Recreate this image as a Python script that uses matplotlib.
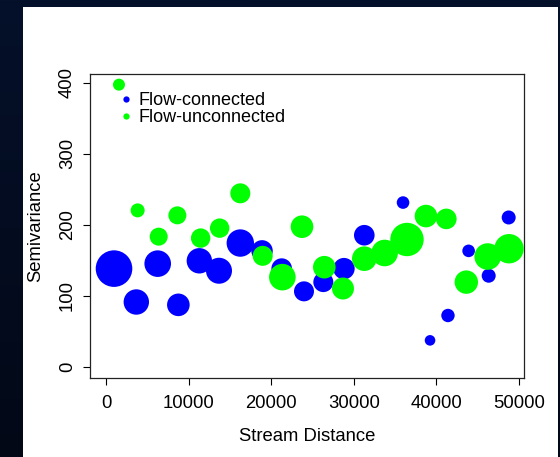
import numpy as np
import matplotlib
matplotlib.use("Agg")
import matplotlib.pyplot as plt
from matplotlib.lines import Line2D
from matplotlib.patches import Rectangle

plt.rcParams['font.family'] = ['Liberation Sans', 'DejaVu Sans']

# Flow-connected (blue)
fc_dist = [970, 3670, 6260, 8760, 11300, 13680, 16260, 18890, 21270, 23970,
           26310, 28810, 31270, 35960, 39230, 41400, 43900, 46330, 48750]
fc_semivar = [138, 91, 145, 87, 149, 135, 174, 163, 138, 106,
              119, 138, 185, 231, 37, 72, 163, 128, 210]
fc_weight = [18.3, 12.7, 13.3, 11.3, 12.7, 13.0, 13.7, 10.7, 10.3, 10.0,
             10.0, 10.7, 10.3, 6.3, 5.3, 6.7, 6.3, 7.0, 7.0]

# Flow-unconnected (green)
fu_dist = [1570, 3830, 6380, 8640, 11460, 13760, 16260, 18970, 21350, 23730,
           26430, 28690, 31270, 33730, 36440, 38740, 41200, 43620, 46210, 48790]
fu_semivar = [397, 220, 183, 213, 181, 195, 244, 156, 126, 197,
              140, 110, 152, 160, 179, 212, 208, 119, 155, 166]
fu_weight = [6.0, 7.0, 9.0, 9.0, 9.7, 9.7, 10.0, 10.0, 13.3, 11.3,
             11.3, 11.0, 12.3, 13.3, 16.7, 11.3, 10.3, 11.7, 13.3, 14.7]

x_ticks = [0, 10000, 20000, 30000, 40000, 50000]
y_ticks = [0, 100, 200, 300, 400]

W, H, DPI = 560, 457, 100
fig = plt.figure(figsize=(W / DPI, H / DPI), dpi=DPI)

# dark navy background with subtle gradient
bg = fig.add_axes([0, 0, 1, 1])
bg.set_axis_off()
grad = np.linspace(0, 1, 256).reshape(-1, 1)
top = np.array([5, 16, 42]) / 255.0
bot = np.array([2, 8, 22]) / 255.0
img = top[None, None, :] * (1 - grad[..., None]) + bot[None, None, :] * grad[..., None]
img = np.repeat(img, 4, axis=1)
bg.imshow(img, aspect='auto', extent=[0, 1, 0, 1])
bg.set_xlim(0, 1)
bg.set_ylim(0, 1)
# white device region
bg.add_patch(Rectangle((23 / W, 0), (558 - 23) / W, (H - 7) / H,
                       facecolor='white', edgecolor='none'))


def px_axes(left, top, right, bottom):
    return [left / W, 1 - bottom / H, (right - left) / W, (bottom - top) / H]


ax = fig.add_axes(px_axes(90, 74, 524, 378))
ax.set_facecolor('white')


def sz(w):
    return (np.array(w) * 2 * 72 / DPI) ** 2


ax.scatter(fc_dist, fc_semivar, s=sz(fc_weight), c='#0000FF', linewidths=0, zorder=2)
ax.scatter(fu_dist, fu_semivar, s=sz(fu_weight), c='#00FF00', linewidths=0, zorder=3)

ax.set_xlim(-1937, 50605)
ax.set_ylim(-16, 412)
ax.set_xticks(x_ticks)
ax.set_xticklabels([str(v) for v in x_ticks])
ax.set_yticks(y_ticks)
ax.set_yticklabels([str(v) for v in y_ticks], rotation=90, va='center')
ax.tick_params(direction='out', length=5, width=0.8, labelsize=13.3, colors='black')
ax.tick_params(axis='x', pad=7.5)
ax.tick_params(axis='y', pad=5)
for sp in ax.spines.values():
    sp.set_linewidth(0.9)
    sp.set_color('#222222')

ax.set_xlabel('Stream Distance', fontsize=13.3, labelpad=11)
ax.set_ylabel('Semivariance', fontsize=13.3, labelpad=11)

handles = [Line2D([], [], marker='o', linestyle='none', color='#0000FF',
                  markersize=4.5, markeredgewidth=0),
           Line2D([], [], marker='o', linestyle='none', color='#00FF00',
                  markersize=4.5, markeredgewidth=0)]
leg = ax.legend(handles, ['Flow-connected', 'Flow-unconnected'],
                loc='upper left', bbox_to_anchor=((122 - 90) / 434, 1 - (92 - 74) / 304),
                frameon=False, fontsize=13, handlelength=0.4, handletextpad=0.52,
                labelspacing=0.0, borderaxespad=0, borderpad=0)

fig.savefig('out.png', dpi=DPI)
